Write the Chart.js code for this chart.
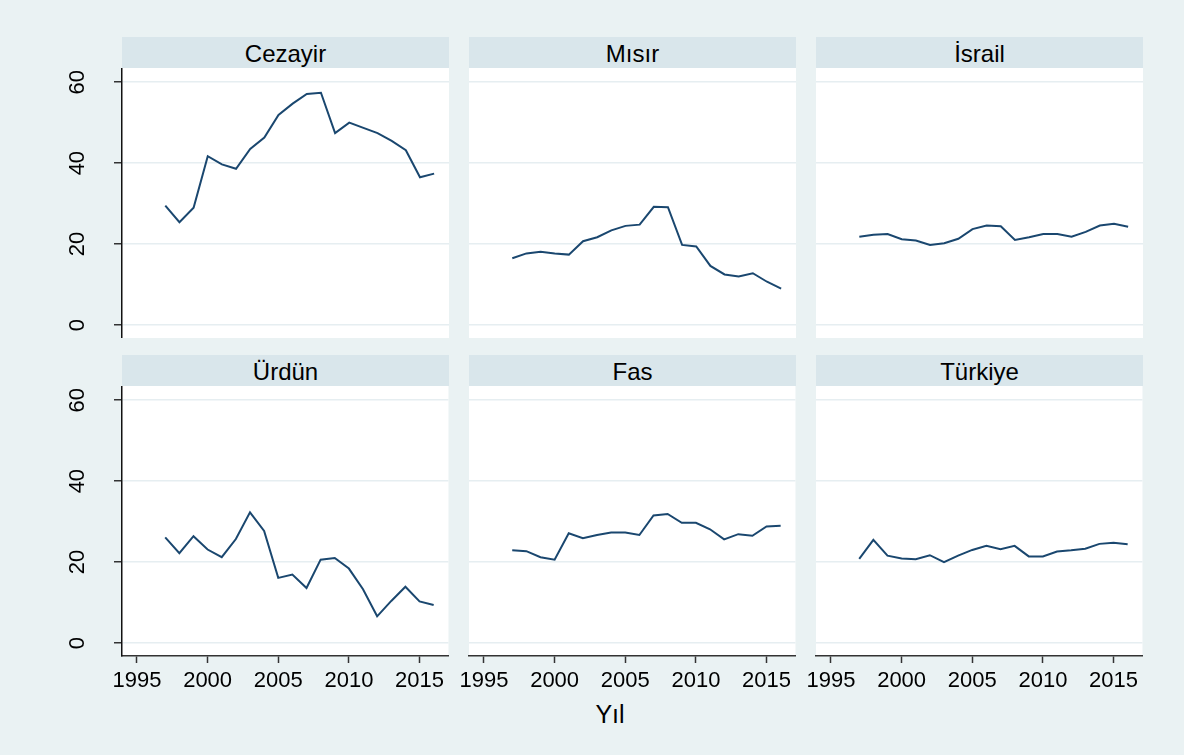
<!DOCTYPE html>
<html>
<head>
<meta charset="utf-8">
<script src="https://cdn.jsdelivr.net/npm/chart.js@4.4.1/dist/chart.umd.min.js"></script>
<style>
  html, body { margin: 0; padding: 0; width: 1184px; height: 755px; overflow: hidden; background: #eaf2f3; font-family: "Liberation Sans", Arial, sans-serif; }
  .strip { position: absolute; width: 327px; height: 31px; line-height: 33px; background: #d9e6eb; color: #000; font-size: 24px; text-align: center; }
  canvas { position: absolute; }
  #xtitle { position: absolute; left: 560px; width: 100px; top: 702px; line-height: 25px; font-size: 25px; text-align: center; color: #000; }
</style>
</head>
<body>
<div id="xtitle">Yıl</div>
<script>
  // data
  const years = [1997, 1998, 1999, 2000, 2001, 2002, 2003, 2004, 2005, 2006, 2007, 2008, 2009, 2010, 2011, 2012, 2013, 2014, 2015, 2016];
  const cezayir = [29.5, 25.4, 29.0, 41.7, 39.7, 38.6, 43.5, 46.3, 51.9, 54.7, 57.1, 57.4, 47.4, 50.0, 48.7, 47.4, 45.5, 43.2, 36.5, 37.4];
  const misir   = [16.5, 17.7, 18.1, 17.7, 17.4, 20.7, 21.7, 23.4, 24.5, 24.8, 29.2, 29.1, 19.8, 19.4, 14.6, 12.5, 12.0, 12.8, 10.7, 9.0];
  const israil  = [21.8, 22.3, 22.5, 21.2, 20.9, 19.8, 20.2, 21.3, 23.7, 24.6, 24.4, 21.0, 21.7, 22.5, 22.5, 21.8, 23.0, 24.6, 25.0, 24.3];
  const urdun   = [26.1, 22.2, 26.4, 23.1, 21.2, 25.7, 32.3, 27.7, 16.1, 16.9, 13.6, 20.6, 21.0, 18.4, 13.3, 6.6, 10.4, 13.9, 10.3, 9.4];
  const fas     = [22.9, 22.7, 21.2, 20.6, 27.1, 25.9, 26.7, 27.3, 27.3, 26.7, 31.5, 31.9, 29.7, 29.7, 28.1, 25.6, 26.9, 26.5, 28.8, 29.0];
  const turkiye = [20.8, 25.5, 21.6, 20.9, 20.7, 21.7, 20.0, 21.6, 23.0, 24.0, 23.2, 24.0, 21.4, 21.4, 22.6, 22.9, 23.3, 24.5, 24.8, 24.4];

  const countries = ['Cezayir', 'Mısır', 'İsrail', 'Ürdün', 'Fas', 'Türkiye'];
  const series = [cezayir, misir, israil, urdun, fas, turkiye];
  const xTicks = [1995, 2000, 2005, 2010, 2015];
  const yTicks = [0, 20, 40, 60];

  const colLeft = [122, 469, 816];
  const rowTop = [68, 386];
  const plotW = 327, plotH = 270, axisW = 63, axisH = 50;
  const font = '"Liberation Sans", Arial, sans-serif';

  // white plot region
  const plotBg = {
    id: 'plotBg',
    beforeDraw(chart) {
      const { ctx, chartArea: a } = chart;
      ctx.save();
      ctx.fillStyle = '#fff';
      ctx.fillRect(a.left, a.top, a.width, a.height);
      ctx.restore();
    }
  };

  // rotated y tick labels, stata style
  const yLabels = {
    id: 'yLabels',
    afterDraw(chart, args, opts) {
      if (!opts.show) return;
      const ctx = chart.ctx, s = chart.scales.y;
      ctx.save();
      ctx.fillStyle = '#000';
      ctx.font = '22px ' + font;
      ctx.textAlign = 'center';
      ctx.textBaseline = 'middle';
      s.ticks.forEach(t => {
        ctx.save();
        ctx.translate(19, s.getPixelForValue(t.value));
        ctx.rotate(-Math.PI / 2);
        ctx.fillText(String(t.value), 0, 0);
        ctx.restore();
      });
      ctx.restore();
    }
  };

  countries.forEach((name, i) => {
    const row = Math.floor(i / 3), col = i % 3;

    const strip = document.createElement('div');
    strip.className = 'strip';
    strip.style.left = colLeft[col] + 'px';
    strip.style.top = (rowTop[row] - 31) + 'px';
    strip.textContent = name;
    document.body.appendChild(strip);

    const cv = document.createElement('canvas');
    cv.width = plotW + axisW;
    cv.height = plotH + (row === 1 ? axisH : 0);
    cv.style.left = (colLeft[col] - axisW) + 'px';
    cv.style.top = rowTop[row] + 'px';
    document.body.appendChild(cv);

    new Chart(cv, {
      type: 'line',
      data: {
        datasets: [{
          data: years.map((yr, k) => ({ x: yr, y: series[i][k] })),
          borderColor: '#1a476f',
          borderWidth: 2,
          pointRadius: 0,
          tension: 0,
          fill: false
        }]
      },
      options: {
        responsive: false,
        animation: false,
        events: [],
        layout: { padding: 0 },
        plugins: {
          legend: { display: false },
          tooltip: { enabled: false },
          yLabels: { show: col === 0 }
        },
        scales: {
          x: {
            type: 'linear',
            min: 1993.94,
            max: 2017.05,
            display: row === 1,
            afterBuildTicks: s => { s.ticks = xTicks.map(v => ({ value: v })) },
            afterFit: s => { s.height = row === 1 ? axisH : 0 },
            grid: { drawOnChartArea: false, drawTicks: true, tickLength: 7, tickColor: '#333', tickWidth: 1.5 },
            border: { display: true, color: '#333', width: 1.5 },
            ticks: { color: '#000', font: { size: 22, family: font }, padding: 5, maxRotation: 0, autoSkip: false, callback: v => String(v) }
          },
          y: {
            min: -3.2,
            max: 63.5,
            afterBuildTicks: s => { s.ticks = yTicks.map(v => ({ value: v })) },
            afterFit: s => { s.width = axisW },
            grid: { color: '#e6eef1', lineWidth: 1.5, drawTicks: col === 0, tickLength: 8, tickColor: '#333', tickWidth: 1.5 },
            border: { display: col === 0, color: '#111', width: 1.5 },
            ticks: { display: false }
          }
        }
      },
      plugins: [plotBg, yLabels]
    });
  });
</script>
</body>
</html>
